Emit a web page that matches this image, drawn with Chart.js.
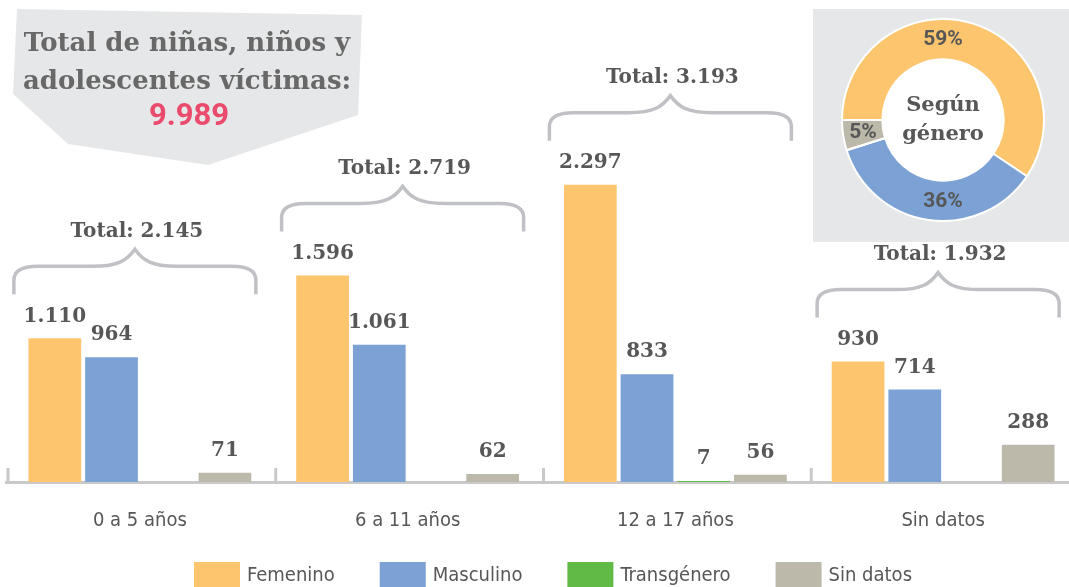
<!DOCTYPE html>
<html>
<head>
<meta charset="utf-8">
<script src="https://cdn.jsdelivr.net/npm/chart.js@4.4.1/dist/chart.umd.min.js"></script>
<style>
  html, body { margin: 0; padding: 0; background: #fff; overflow: hidden; }
  #wrap { position: relative; width: 1069px; height: 587px; overflow: hidden; }
  #donutBox { position: absolute; left: 813px; top: 9px; width: 260px; height: 233px; background: #E6E7E8; }
  #mainHolder { position: absolute; left: 0; top: 0; }
  #donutHolder { position: absolute; left: 841px; top: 18px; }
</style>
</head>
<body>
<div id="wrap">
  <div id="donutBox"></div>
  <div id="mainHolder"><canvas id="main" width="1080" height="587"></canvas></div>
  <div id="donutHolder"><canvas id="donut" width="204" height="204"></canvas></div>
</div>
<script>
var categories = ['0 a 5 años', '6 a 11 años', '12 a 17 años', 'Sin datos'];
var seriesNames = ['Femenino', 'Masculino', 'Transgénero', 'Sin datos'];
var femenino = [1110, 1596, 2297, 930];
var masculino = [964, 1061, 833, 714];
var transgenero = [0, 0, 7, 0];
var sinDatos = [71, 62, 56, 288];
var colors = ['#FCC56E', '#7BA1D5', '#62BA46', '#BCB9AA'];

var SLAB = "'DejaVu Serif', serif";
var NARROW = "'DejaVu Sans Condensed', 'DejaVu Sans', sans-serif";
var TEXT = '#575757';

function fmt(n) {
  return String(n).replace(/\B(?=(\d{3})+(?!\d))/g, '.');
}
function sum(a) {
  return a.reduce(function(s, v) { return s + v; }, 0);
}

var series = [femenino, masculino, transgenero, sinDatos];
var grandTotal = sum(series.map(sum));

// callout, braces, value labels, tick marks, legend
var decor = {
  id: 'decor',
  beforeDraw: function(chart) {
    var ctx = chart.ctx;
    ctx.save();
    ctx.fillStyle = '#E6E7E8';
    ctx.beginPath();
    ctx.moveTo(17, 9);
    ctx.lineTo(362, 15);
    ctx.lineTo(358, 115);
    ctx.lineTo(208, 165);
    ctx.lineTo(68, 144);
    ctx.lineTo(13, 94);
    ctx.closePath();
    ctx.fill();

    ctx.textAlign = 'center';
    ctx.textBaseline = 'middle';
    ctx.fillStyle = '#686868';
    ctx.font = 'bold 26px ' + SLAB;
    ctx.fillText('Total de niñas, niños y', 187, 44);
    ctx.fillText('adolescentes víctimas:', 187, 82);
    ctx.fillStyle = '#EA4A6C';
    ctx.font = 'bold 31px Roboto, sans-serif';
    ctx.fillText(fmt(grandTotal), 189, 117);
    ctx.restore();
  },
  afterDatasetsDraw: function(chart) {
    var ctx = chart.ctx;
    var x = chart.scales.x, y = chart.scales.y;
    var n = categories.length;
    var step = x.width / n;
    ctx.save();

    // tick marks between categories
    ctx.strokeStyle = '#C9C9C9';
    ctx.lineWidth = 3;
    for (var k = 0; k <= n; k++) {
      var tx = x.left + k * step + 2;
      ctx.beginPath();
      ctx.moveTo(tx, y.bottom);
      ctx.lineTo(tx, y.bottom - 14);
      ctx.stroke();
    }

    // value labels
    ctx.fillStyle = TEXT;
    ctx.font = 'bold 20px ' + SLAB;
    ctx.textAlign = 'center';
    ctx.textBaseline = 'middle';
    chart.data.datasets.forEach(function(ds, di) {
      chart.getDatasetMeta(di).data.forEach(function(bar, i) {
        var v = ds.data[i];
        if (!v) return;
        ctx.fillText(fmt(v), bar.x, bar.y - 22);
      });
    });

    // braces with totals
    for (var i = 0; i < n; i++) {
      var vals = series.map(function(s) { return s[i]; });
      var top = y.getPixelForValue(Math.max.apply(null, vals));
      var cx = x.getPixelForValue(i) - 5;
      var L = cx - 121, R = cx + 121;
      var yEnd = top - 44, yH = yEnd - 28, yTip = yH - 17;
      ctx.strokeStyle = '#C0C1C5';
      ctx.lineWidth = 3.5;
      ctx.beginPath();
      ctx.moveTo(L, yEnd);
      ctx.lineTo(L, yH + 14);
      ctx.quadraticCurveTo(L, yH, L + 24, yH);
      ctx.lineTo(cx - 42, yH);
      ctx.bezierCurveTo(cx - 16, yH, cx - 8, yH - 6, cx, yTip);
      ctx.bezierCurveTo(cx + 8, yH - 6, cx + 16, yH, cx + 42, yH);
      ctx.lineTo(R - 24, yH);
      ctx.quadraticCurveTo(R, yH, R, yH + 14);
      ctx.lineTo(R, yEnd);
      ctx.stroke();
      ctx.fillStyle = TEXT;
      ctx.font = 'bold 20px ' + SLAB;
      ctx.fillText('Total: ' + fmt(sum(vals)), cx + 2, yTip - 18);
    }

    // legend
    ctx.font = '20px ' + NARROW;
    ctx.textAlign = 'left';
    var boxW = 46, boxH = 28, gap = 7, space = 45;
    var widths = seriesNames.map(function(s) { return boxW + gap + ctx.measureText(s).width; });
    var total = sum(widths) + space * (widths.length - 1);
    var lx = 553 - total / 2, ly = 562;
    seriesNames.forEach(function(s, si) {
      ctx.fillStyle = colors[si];
      ctx.fillRect(lx, ly, boxW, boxH);
      ctx.fillStyle = TEXT;
      ctx.fillText(s, lx + boxW + gap, ly + 14);
      lx += widths[si] + space;
    });
    ctx.restore();
  }
};

new Chart(document.getElementById('main'), {
  type: 'bar',
  data: {
    labels: categories,
    datasets: seriesNames.map(function(name, i) {
      return {
        label: name,
        data: series[i],
        backgroundColor: colors[i],
        borderWidth: 0,
        categoryPercentage: 0.847,
        barPercentage: 0.93
      };
    })
  },
  options: {
    responsive: false,
    animation: false,
    layout: { padding: { left: 6, right: 3, top: 3, bottom: 0 } },
    plugins: { legend: { display: false }, tooltip: { enabled: false } },
    scales: {
      x: {
        grid: { display: false, drawTicks: false },
        border: { display: true, color: '#C9C9C9', width: 3 },
        ticks: { color: TEXT, font: { family: NARROW, size: 20 }, padding: 27, maxRotation: 0 },
        afterFit: function(s) { s.height = 105; }
      },
      y: { display: false, min: 0, max: 3700 }
    }
  },
  plugins: [decor]
});

// doughnut: share by gender
var genderTotals = series.map(sum);

// label angle: top or bottom of the ring if the slice covers it, else the middle
function labelAngle(a) {
  var TWO = Math.PI * 2;
  function inside(t) {
    var s = a.startAngle, e = a.endAngle;
    while (t < s) t += TWO;
    return t <= e;
  }
  if (inside(-Math.PI / 2)) return -Math.PI / 2;
  if (inside(Math.PI / 2)) return Math.PI / 2;
  return (a.startAngle + a.endAngle) / 2;
}

var donutDecor = {
  id: 'donutDecor',
  beforeDatasetsDraw: function(chart) {
    var arc = chart.getDatasetMeta(0).data[0];
    var ctx = chart.ctx;
    ctx.save();
    ctx.fillStyle = '#FFFFFF';
    ctx.beginPath();
    ctx.arc(arc.x, arc.y, arc.innerRadius, 0, Math.PI * 2);
    ctx.fill();
    ctx.restore();
  },
  afterDatasetsDraw: function(chart) {
    var ctx = chart.ctx;
    var meta = chart.getDatasetMeta(0);
    var first = meta.data[0];
    ctx.save();
    ctx.textAlign = 'center';
    ctx.textBaseline = 'middle';
    ctx.fillStyle = TEXT;
    ctx.font = 'bold 21px Roboto, sans-serif';
    meta.data.forEach(function(a, i) {
      var pct = Math.round(genderTotals[i] / grandTotal * 100);
      if (pct < 1) return;
      var ang = labelAngle(a);
      var r = (a.innerRadius + a.outerRadius) / 2;
      ctx.fillText(pct + '%', a.x + r * Math.cos(ang), a.y + r * Math.sin(ang) + 1);
    });
    ctx.font = 'bold 21px ' + SLAB;
    ctx.fillText('Según', first.x, first.y - 14);
    ctx.fillText('género', first.x, first.y + 15);
    ctx.restore();
  }
};

new Chart(document.getElementById('donut'), {
  type: 'doughnut',
  data: {
    labels: seriesNames,
    datasets: [{
      data: genderTotals,
      backgroundColor: colors,
      borderColor: '#FFFFFF',
      borderWidth: 2
    }]
  },
  options: {
    responsive: false,
    animation: false,
    rotation: -90,
    cutout: '60%',
    plugins: { legend: { display: false }, tooltip: { enabled: false } }
  },
  plugins: [donutDecor]
});
</script>
</body>
</html>
